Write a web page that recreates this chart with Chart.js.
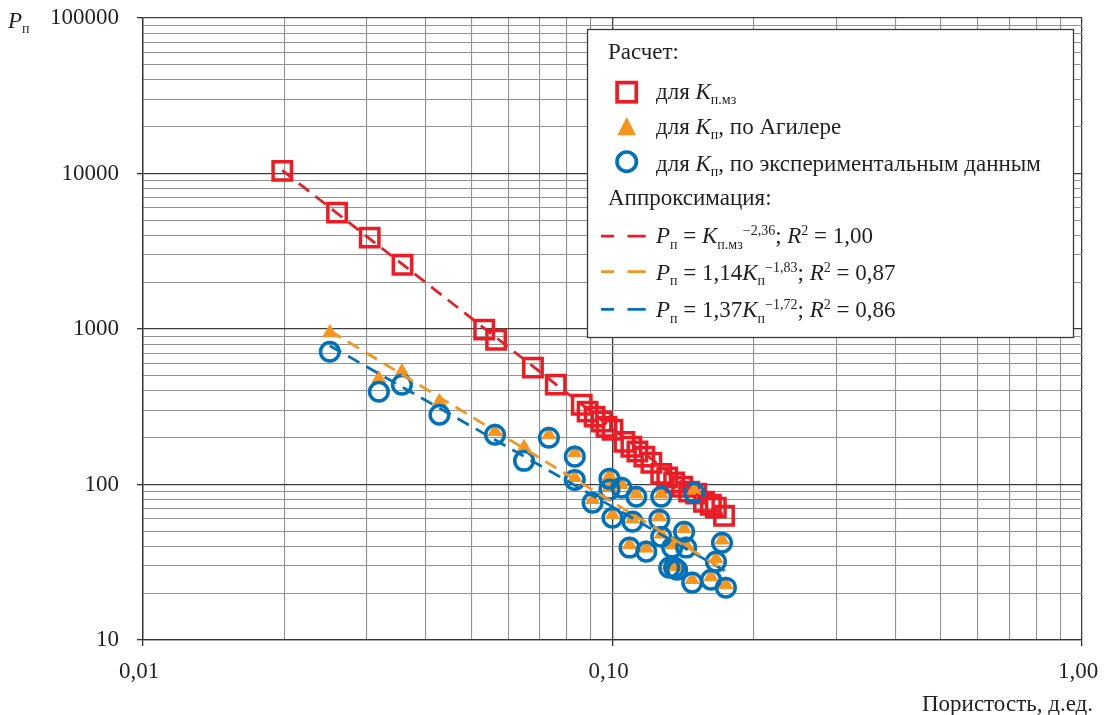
<!DOCTYPE html>
<html lang="ru">
<head>
<meta charset="UTF-8">
<title>Параметр пористости</title>
<script src="https://cdn.jsdelivr.net/npm/chart.js@4.4.1/dist/chart.umd.min.js"></script>
<style>
  body { margin: 0; background: #fff; }
  #wrap { width: 1106px; height: 715px; }
</style>
</head>
<body>
<div id="wrap"><canvas id="myChart" width="1106" height="715"></canvas></div>
<script>
// Расчет для K п.мз
const kMz = [0.0198, 0.0259, 0.0304, 0.0357, 0.0533, 0.0565, 0.0677, 0.0757, 0.0860, 0.0885,
             0.0916, 0.0948, 0.0971, 0.100, 0.106, 0.1097, 0.113, 0.1169, 0.121, 0.127,
             0.1308, 0.1353, 0.1407, 0.1456, 0.1507, 0.1566, 0.162, 0.166, 0.1728];
const pMz = [10400, 5600, 3870, 2590, 990, 853, 564, 439, 326, 294,
             273, 254, 235, 225, 188, 175, 163, 151, 138, 117,
             111, 103, 96.8, 90, 87.3, 77.5, 74.1, 71, 63];

// K п по экспериментальным данным (для Агилеры та же пористость)
const kExp = [0.0250, 0.0318, 0.0356, 0.0428, 0.0562, 0.0648, 0.0732, 0.0831, 0.0831, 0.0907,
              0.0985, 0.0985, 0.1045, 0.100, 0.1124, 0.1103, 0.127, 0.1258, 0.1087, 0.118,
              0.127, 0.134, 0.1421, 0.1435, 0.1321, 0.1353, 0.1373, 0.1478, 0.1621, 0.1661,
              0.1711, 0.1744, 0.1492];
const pAgilera = [946, 479, 531, 341, 219, 173, 209, 160, 111, 80,
                  114, 97, 100, 64, 87, 60, 87, 62, 41, 39,
                  48, 41, 52, 41, 30.5, 30.5, 29.6, 24.5, 25.5, 33.3,
                  44, 22.7, 92];
const pExp = [714, 395, 438, 281, 209, 142, 200, 151, 107, 76.4,
              109, 92.7, 95.3, 61.1, 83.4, 57.7, 83.4, 59.4, 39.3, 37.0,
              46.1, 39.3, 49.7, 39.3, 29.2, 29.2, 28.3, 23.4, 24.4, 31.9,
              42.2, 21.7, 88.5];

// аппроксимация P = a * K^b
const fitCoef = [1, 1.14, 1.37];
const fitPow = [-2.36, -1.83, -1.72];
const fitFrom = [0.0198, 0.0250, 0.0250];
const fitTo = [0.1728, 0.1744, 0.1744];

// подписи осей
const xMajor = [0.01, 0.1, 1];
const xMajorLabels = ['0,01', '0,10', '1,00'];
const yMajor = [10, 100, 1000, 10000, 100000];
const yMajorLabels = ['10', '100', '1000', '10000', '100000'];

const SERIF = '"Liberation Serif", "Times New Roman", serif';
const RED = '#ED1C24', ORANGE = '#F7941D', BLUE = '#0072BC';
const TEXT = '#231F20';

function withMinors(majors) {
  const out = [];
  majors.forEach((m, i) => {
    out.push(m);
    if (i < majors.length - 1) for (let j = 2; j <= 9; j++) out.push(+(m * j).toPrecision(6));
  });
  return out;
}
function majorIndex(v, majors) {
  return majors.findIndex(m => Math.abs(m - v) / m < 1e-6);
}
function fitLine(i) {
  return [fitFrom[i], fitTo[i]].map(k => ({ x: k, y: fitCoef[i] * Math.pow(k, fitPow[i]) }));
}
const pts = (xs, ys) => xs.map((x, i) => ({ x: x, y: ys[i] }));

function logAxis(majors, labels, fit, tickOpts) {
  return {
    type: 'logarithmic',
    min: majors[0],
    max: majors[majors.length - 1],
    afterBuildTicks: s => { s.ticks = withMinors(majors).map(v => ({ value: v })); },
    afterFit: s => {
      // края области построения задаются только layout.padding
      s.paddingTop = s.paddingBottom = s.paddingLeft = s.paddingRight = 0;
      fit(s);
    },
    grid: {
      color: c => majorIndex(c.tick.value, majors) >= 0 ? '#3c3c3c' : '#929292',
      lineWidth: c => majorIndex(c.tick.value, majors) >= 0 ? 1.3 : 1.1,
      tickColor: c => majorIndex(c.tick.value, majors) >= 0 ? '#333' : 'rgba(0,0,0,0)',
      tickLength: 6
    },
    border: { color: '#333', width: 1.3 },
    ticks: Object.assign({
      autoSkip: false,
      maxRotation: 0,
      color: TEXT,
      font: { family: SERIF, size: 23 },
      callback: v => { const i = majorIndex(v, majors); return i >= 0 ? labels[i] : ''; }
    }, tickOpts)
  };
}

// текст с индексами: [строка, вид], вид: n, i, sub, sup
function rich(c, x, y, parts) {
  parts.forEach(([t, kind]) => {
    let size = 23, dy = 0, style = '';
    if (kind === 'i') style = 'italic ';
    if (kind === 'sub') { size = 14; dy = 5.5; }
    if (kind === 'sup') { size = 14; dy = -8; }
    c.font = style + size + 'px ' + SERIF;
    c.fillText(t, x, y + dy);
    x += c.measureText(t).width;
  });
}

const legendBox = {
  id: 'legendBox',
  afterDraw(chart) {
    const c = chart.ctx;
    c.save();
    c.fillStyle = '#fff';
    c.fillRect(587, 29, 486, 308);
    c.strokeStyle = '#3a3a3a';
    c.lineWidth = 1.3;
    c.strokeRect(587.5, 29.5, 486, 308);

    c.fillStyle = TEXT;
    c.textBaseline = 'alphabetic';
    c.textAlign = 'left';
    rich(c, 608, 59, [['Расчет:', 'n']]);
    rich(c, 656, 98.5, [['для ', 'n'], ['K', 'i'], ['п.мз', 'sub']]);
    rich(c, 656, 133.5, [['для ', 'n'], ['K', 'i'], ['п', 'sub'], [', по Агилере', 'n']]);
    rich(c, 656, 170.5, [['для ', 'n'], ['K', 'i'], ['п', 'sub'], [', по экспериментальным данным', 'n']]);
    rich(c, 608, 205, [['Аппроксимация:', 'n']]);
    rich(c, 656, 243, [['P', 'i'], ['п', 'sub'], [' = ', 'n'], ['K', 'i'], ['п.мз', 'sub'], ['−2,36', 'sup'],
                       ['; ', 'n'], ['R', 'i'], ['2', 'sup'], [' = 1,00', 'n']]);
    rich(c, 656, 279.5, [['P', 'i'], ['п', 'sub'], [' = 1,14', 'n'], ['K', 'i'], ['п', 'sub'], ['−1,83', 'sup'],
                         ['; ', 'n'], ['R', 'i'], ['2', 'sup'], [' = 0,87', 'n']]);
    rich(c, 656, 317, [['P', 'i'], ['п', 'sub'], [' = 1,37', 'n'], ['K', 'i'], ['п', 'sub'], ['−1,72', 'sup'],
                       ['; ', 'n'], ['R', 'i'], ['2', 'sup'], [' = 0,86', 'n']]);

    // маркеры
    c.lineWidth = 3.7;
    c.strokeStyle = RED;
    c.strokeRect(626.7 - 9.6, 92.2 - 9.6, 19.2, 19.2);
    c.fillStyle = ORANGE;
    c.beginPath();
    c.moveTo(626.7, 117);
    c.lineTo(626.7 + 9.3, 135.3);
    c.lineTo(626.7 - 9.3, 135.3);
    c.closePath();
    c.fill();
    c.strokeStyle = BLUE;
    c.beginPath();
    c.arc(626.7, 161.7, 9.7, 0, Math.PI * 2);
    c.stroke();

    // линии аппроксимации
    c.lineWidth = 2.75;
    [[RED, 236], [ORANGE, 271.7], [BLUE, 309.3]].forEach(([col, y]) => {
      c.strokeStyle = col;
      c.beginPath();
      c.moveTo(601, y); c.lineTo(614, y);
      c.moveTo(627.5, y); c.lineTo(645.7, y);
      c.stroke();
    });

    // подписи осей
    c.fillStyle = TEXT;
    rich(c, 8, 27.5, [['P', 'i'], ['п', 'sub']]);
    c.textAlign = 'right';
    c.font = '23px ' + SERIF;
    c.fillText('Пористость, д.ед.', 1093, 711);
    c.restore();
  }
};

new Chart(document.getElementById('myChart'), {
  type: 'scatter',
  data: {
    datasets: [
      { data: fitLine(0), showLine: true, borderColor: RED, borderWidth: 2.75, borderDash: [13, 8],
        pointRadius: 0, order: 0 },
      { data: fitLine(1), showLine: true, borderColor: ORANGE, borderWidth: 2.75, borderDash: [13, 8],
        pointRadius: 0, order: 0 },
      { data: fitLine(2), showLine: true, borderColor: BLUE, borderWidth: 2.75, borderDash: [13, 8],
        pointRadius: 0, order: 0 },
      { data: pts(kExp, pExp), pointStyle: 'circle', pointRadius: 9.3, borderWidth: 3.5,
        borderColor: BLUE, backgroundColor: 'rgba(0,0,0,0)', order: 1 },
      { data: pts(kExp, pAgilera), pointStyle: 'triangle', pointRadius: 8, borderWidth: 1,
        borderColor: ORANGE, backgroundColor: ORANGE, order: 2 },
      { data: pts(kMz, pMz), pointStyle: 'rect', pointRadius: 13, borderWidth: 3.5,
        borderColor: RED, backgroundColor: 'rgba(0,0,0,0)', order: 3 }
    ]
  },
  options: {
    responsive: false,
    animation: false,
    events: [],
    layout: { padding: { left: 0, top: 18, right: 24, bottom: 0 } },
    plugins: { legend: { display: false }, tooltip: { enabled: false } },
    scales: {
      x: logAxis(xMajor, xMajorLabels, s => { s.height = 75; }, { padding: 12, labelOffset: -4 }),
      y: logAxis(yMajor, yMajorLabels, s => { s.width = 143; }, { padding: 18 })
    }
  },
  plugins: [legendBox]
});
</script>
</body>
</html>
